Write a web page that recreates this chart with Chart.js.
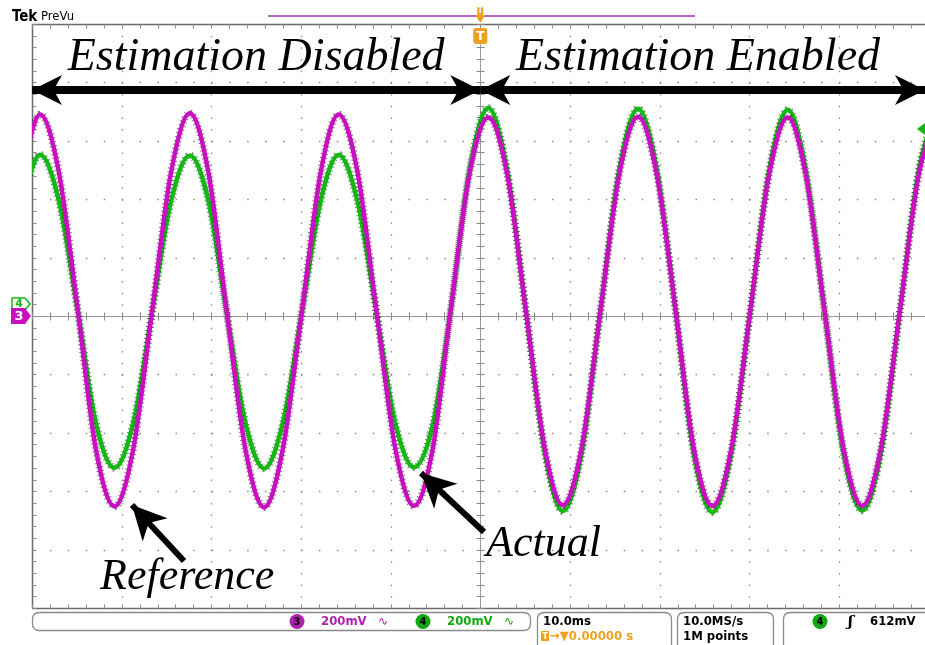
<!DOCTYPE html>
<html>
<head>
<meta charset="utf-8">
<script src="https://cdn.jsdelivr.net/npm/chart.js@4.4.0/dist/chart.umd.min.js"></script>
<style>
  html, body { margin: 0; padding: 0; background: #fff; overflow: hidden; }
  #wrap { position: relative; width: 925px; height: 645px; }
</style>
</head>
<body>
<div id="wrap"><canvas id="scope" width="925" height="645"></canvas></div>
<script>
// time axis in ms (trigger at 0), values in mV
const timeMs = [-51.2, -49.1, -47.0, -44.9, -42.9, -40.8, -38.7, -36.6, -34.5, -32.4,
    -30.3, -28.3, -26.2, -24.1, -22.0, -19.9, -17.8, -15.8, -13.7, -11.6,
    -9.5, -7.4, -5.3, -3.3, -1.2, 0.9, 3.0, 5.1, 7.2, 9.2,
    11.3, 13.4, 15.5, 17.6, 19.7, 21.8, 23.8, 25.9, 28.0, 30.1,
    32.2, 34.3, 36.3, 38.4, 40.5, 42.6, 44.7, 46.8, 48.9, 50.9];

// channel 3 - reference (magenta)
const ch3mV = [494, 690, 492, 22, -452, -652, -455, 18, 490, 694,
    488, 20, -456, -655, -452, 15, 492, 690, 494, 22,
    -450, -650, -455, 20, 488, 680, 485, 15, -455, -648,
    -452, 18, 485, 682, 482, 16, -452, -650, -455, 15,
    482, 680, 484, 18, -452, -650, -450, 18, 484, 684];

// channel 4 - actual (green)
const ch4mV = [392, 552, 394, 18, -362, -520, -365, 14, 392, 550,
    390, 15, -365, -522, -362, 12, 394, 552, 392, 16,
    -364, -518, -372, 18, 500, 712, 500, 15, -470, -668,
    -472, 16, 502, 710, 500, 14, -470, -672, -470, 12,
    498, 706, 500, 15, -468, -666, -468, 15, 500, 712];

const xTicks = [-50, -40, -30, -20, -10, 0, 10, 20, 30, 40];
const yTicks = [-1000, -800, -600, -400, -200, 0, 200, 400, 600, 800, 1000];
const xRange = [-50, 49.6];
const yRange = [-1000, 1000];

const trigLevelMv = 640;

const MAGENTA = '#c810c0';
const GREEN = '#14b814';
const GRID = '#8c8c8c';
const ORANGE = '#f0a020';
const SERIF = '"Liberation Serif", "Times New Roman", "DejaVu Serif", serif';

function pts(vals) {
    return timeMs.map((t, i) => ({ x: t, y: vals[i] }));
}

const scopeGrid = {
    id: 'scopeGrid',
    beforeDatasetsDraw(chart) {
        const { ctx, chartArea: a, scales: { x, y } } = chart;
        const minorX = (x.getPixelForValue(10) - x.getPixelForValue(0)) / 5;
        const minorY = (y.getPixelForValue(0) - y.getPixelForValue(200)) / 5;
        ctx.save();
        ctx.strokeStyle = GRID;
        ctx.lineWidth = 1.3;
        // dotted major lines
        ctx.setLineDash([1.5, minorY - 1.5]);
        xTicks.forEach(v => {
            if (v === 0 || v === xRange[0]) return;
            const px = Math.round(x.getPixelForValue(v)) + 0.5;
            ctx.beginPath(); ctx.moveTo(px, a.top); ctx.lineTo(px, a.bottom); ctx.stroke();
        });
        ctx.setLineDash([1.5, minorX - 1.5]);
        yTicks.forEach(v => {
            if (v === 0 || Math.abs(v) === 1000) return;
            const py = Math.round(y.getPixelForValue(v)) + 0.5;
            ctx.beginPath(); ctx.moveTo(a.left, py); ctx.lineTo(a.right, py); ctx.stroke();
        });
        ctx.setLineDash([]);
        ctx.lineWidth = 1;
        const cx = Math.round(x.getPixelForValue(0)) + 0.5;
        const cy = Math.round(y.getPixelForValue(0)) + 0.5;
        const top = Math.round(a.top) + 0.5, bot = Math.round(a.bottom) + 0.5, left = Math.round(a.left) + 0.5;
        ctx.strokeStyle = '#9a9a9a';
        ctx.beginPath();
        ctx.moveTo(cx, a.top); ctx.lineTo(cx, a.bottom);
        ctx.moveTo(a.left, cy); ctx.lineTo(a.right, cy);
        ctx.stroke();
        ctx.strokeStyle = '#6a6a6a';
        ctx.lineWidth = 1.5;
        ctx.beginPath();
        ctx.moveTo(left, a.bottom); ctx.lineTo(left, top); ctx.lineTo(a.right, top);
        ctx.moveTo(a.left, bot); ctx.lineTo(a.right, bot);
        ctx.stroke();
        // minor ticks
        ctx.lineWidth = 1;
        ctx.strokeStyle = '#8a8a8a';
        ctx.beginPath();
        for (let t = xRange[0]; t <= xRange[1]; t += 2) {
            const px = Math.round(x.getPixelForValue(t)) + 0.5;
            ctx.moveTo(px, cy - 4); ctx.lineTo(px, cy + 4);
            ctx.moveTo(px, top); ctx.lineTo(px, top + 4);
            ctx.moveTo(px, bot); ctx.lineTo(px, bot - 4);
        }
        for (let m = yRange[0]; m <= yRange[1]; m += 40) {
            const py = Math.round(y.getPixelForValue(m)) + 0.5;
            ctx.moveTo(cx - 4, py); ctx.lineTo(cx + 4, py);
            ctx.moveTo(left, py); ctx.lineTo(left + 4, py);
        }
        ctx.stroke();
        ctx.restore();
    }
};

function arrowHead(ctx, tipX, tipY, fromX, fromY, len, half) {
    const ang = Math.atan2(tipY - fromY, tipX - fromX);
    ctx.beginPath();
    ctx.moveTo(tipX, tipY);
    ctx.lineTo(tipX - len * Math.cos(ang) + half * Math.sin(ang), tipY - len * Math.sin(ang) - half * Math.cos(ang));
    ctx.lineTo(tipX - len * 0.72 * Math.cos(ang), tipY - len * 0.72 * Math.sin(ang));
    ctx.lineTo(tipX - len * Math.cos(ang) - half * Math.sin(ang), tipY - len * Math.sin(ang) + half * Math.cos(ang));
    ctx.closePath();
    ctx.fill();
}

function arrow(ctx, x1, y1, x2, y2, w, len, half, both) {
    ctx.lineWidth = w;
    ctx.beginPath(); ctx.moveTo(x1, y1); ctx.lineTo(x2, y2); ctx.stroke();
    arrowHead(ctx, x2, y2, x1, y1, len, half);
    if (both) arrowHead(ctx, x1, y1, x2, y2, len, half);
}

function rrect(ctx, x, y, w, h, r) {
    ctx.beginPath();
    ctx.moveTo(x + r, y); ctx.lineTo(x + w - r, y); ctx.quadraticCurveTo(x + w, y, x + w, y + r);
    ctx.lineTo(x + w, y + h - r); ctx.quadraticCurveTo(x + w, y + h, x + w - r, y + h);
    ctx.lineTo(x + r, y + h); ctx.quadraticCurveTo(x, y + h, x, y + h - r);
    ctx.lineTo(x, y + r); ctx.quadraticCurveTo(x, y, x + r, y);
    ctx.closePath();
}

function chanBadge(ctx, cx, cy, num, color) {
    ctx.save();
    ctx.fillStyle = color;
    ctx.beginPath(); ctx.arc(cx, cy, 7.5, 0, Math.PI * 2); ctx.fill();
    ctx.fillStyle = '#000';
    ctx.font = 'bold 11px "DejaVu Sans Condensed", "DejaVu Sans", sans-serif';
    ctx.textAlign = 'center'; ctx.textBaseline = 'middle';
    ctx.fillText(num, cx, cy + 0.5);
    ctx.restore();
}

const scopeDecor = {
    id: 'scopeDecor',
    afterDatasetsDraw(chart) {
        const { ctx, chartArea: a, scales: { x, y } } = chart;
        const X = v => x.getPixelForValue(v), Y = v => y.getPixelForValue(v);
        ctx.save();

        // header
        ctx.fillStyle = '#000';
        ctx.textAlign = 'left'; ctx.textBaseline = 'alphabetic';
        ctx.font = 'bold 15px "DejaVu Sans Condensed", "DejaVu Sans", sans-serif';
        ctx.fillText('Tek', 12, 21);
        ctx.font = '13px "DejaVu Sans Condensed", "DejaVu Sans", sans-serif';
        ctx.fillText('PreVu', 41, 20);
        ctx.strokeStyle = '#b068c0'; ctx.lineWidth = 2;
        ctx.beginPath(); ctx.moveTo(268, 16); ctx.lineTo(695, 16); ctx.stroke();

        // trigger position markers
        const tx = X(0);
        ctx.fillStyle = ORANGE;
        ctx.fillRect(tx - 3, 6, 6, 9);
        ctx.beginPath(); ctx.moveTo(tx - 5, 15); ctx.lineTo(tx + 5, 15); ctx.lineTo(tx, 23); ctx.closePath(); ctx.fill();
        rrect(ctx, tx - 7, 28, 14, 16, 3); ctx.fill();
        ctx.fillStyle = '#fff';
        ctx.font = 'bold 12px "DejaVu Sans", sans-serif';
        ctx.textAlign = 'center'; ctx.textBaseline = 'middle';
        ctx.fillText('T', tx, 36.5);
        ctx.font = 'bold 8px "DejaVu Sans", sans-serif';
        ctx.fillText('T', tx, 10.5);

        // channel markers on the left
        const c0 = Y(0);
        ctx.strokeStyle = GREEN; ctx.lineWidth = 1.5; ctx.fillStyle = '#fff';
        ctx.beginPath();
        ctx.moveTo(12, c0 - 18); ctx.lineTo(25, c0 - 18); ctx.lineTo(30, c0 - 12); ctx.lineTo(25, c0 - 6); ctx.lineTo(12, c0 - 6); ctx.closePath();
        ctx.fill(); ctx.stroke();
        ctx.fillStyle = GREEN; ctx.font = 'bold 11px "DejaVu Sans", sans-serif';
        ctx.fillText('4', 19, c0 - 11.5);
        ctx.fillStyle = MAGENTA;
        ctx.beginPath();
        ctx.moveTo(11, c0 - 8); ctx.lineTo(25, c0 - 8); ctx.lineTo(31, c0); ctx.lineTo(25, c0 + 8); ctx.lineTo(11, c0 + 8); ctx.closePath();
        ctx.fill();
        ctx.fillStyle = '#fff'; ctx.font = 'bold 13px "DejaVu Sans", sans-serif';
        ctx.fillText('3', 19, c0 + 0.5);

        // trigger level marker on the right
        const ty = Y(trigLevelMv);
        ctx.fillStyle = GREEN;
        ctx.beginPath(); ctx.moveTo(a.right - 8, ty); ctx.lineTo(a.right, ty - 6); ctx.lineTo(a.right, ty + 6); ctx.closePath(); ctx.fill();

        // annotations
        ctx.fillStyle = '#000'; ctx.strokeStyle = '#000';
        ctx.font = 'italic 46px ' + SERIF;
        ctx.textAlign = 'center'; ctx.textBaseline = 'alphabetic';
        ctx.fillText('Estimation Disabled', (X(-50) + X(0)) / 2, 70);
        ctx.fillText('Estimation Enabled', 698, 70);
        arrow(ctx, X(-50), 90, X(0), 90, 8, 30, 15, true);
        arrow(ctx, X(0), 90, a.right, 90, 8, 30, 15, true);

        ctx.font = 'italic 44px ' + SERIF;
        ctx.textAlign = 'left';
        ctx.fillText('Reference', 100, 589);
        ctx.fillText('Actual', 486, 556);
        arrow(ctx, 184, 561, 132, 505, 6, 34, 17, false);
        arrow(ctx, 484, 532, 421, 473, 6, 34, 17, false);

        // status bar
        ctx.strokeStyle = '#8a8a8a'; ctx.lineWidth = 1.3; ctx.fillStyle = '#fff';
        rrect(ctx, 32.5, 612.5, 498, 18, 7); ctx.stroke();
        rrect(ctx, 537.5, 612.5, 134, 40, 7); ctx.stroke();
        rrect(ctx, 677.5, 612.5, 96, 40, 7); ctx.stroke();
        rrect(ctx, 783.5, 612.5, 160, 40, 7); ctx.stroke();

        chanBadge(ctx, 297, 621.5, '3', '#b020b0');
        chanBadge(ctx, 423, 621.5, '4', '#10a810');
        chanBadge(ctx, 820, 621.5, '4', '#10a810');

        ctx.textAlign = 'left'; ctx.textBaseline = 'middle';
        ctx.font = 'bold 13px "DejaVu Sans Condensed", "DejaVu Sans", sans-serif';
        ctx.fillStyle = '#b020b0';
        ctx.fillText('200mV', 321, 622);
        ctx.font = '12px "DejaVu Sans", sans-serif';
        ctx.fillText('\u223F', 378, 622);
        ctx.fillStyle = '#10a810';
        ctx.font = 'bold 13px "DejaVu Sans Condensed", "DejaVu Sans", sans-serif';
        ctx.fillText('200mV', 447, 622);
        ctx.font = '12px "DejaVu Sans", sans-serif';
        ctx.fillText('\u223F', 504, 622);

        ctx.fillStyle = '#000';
        ctx.font = 'bold 13px "DejaVu Sans Condensed", "DejaVu Sans", sans-serif';
        ctx.fillText('10.0ms', 543, 622);
        ctx.fillText('10.0MS/s', 683, 622);
        ctx.fillText('1M points', 683, 637);
        ctx.fillText('612mV', 870, 622);
        ctx.fillStyle = ORANGE;
        ctx.fillRect(541, 631, 8, 10);
        ctx.fillText('\u2192\u25BC0.00000 s', 550, 637);
        ctx.fillStyle = '#fff';
        ctx.font = 'bold 8px "DejaVu Sans", sans-serif';
        ctx.fillText('T', 542.5, 636.5);

        ctx.fillStyle = '#000';
        ctx.font = 'italic bold 15px "DejaVu Serif", serif';
        ctx.fillText('\u0283', 848, 622);

        ctx.restore();
    }
};

const ctx = document.getElementById('scope').getContext('2d');

new Chart(ctx, {
    type: 'line',
    data: {
        datasets: [
            { label: 'Reference', data: pts(ch3mV), borderColor: MAGENTA, borderWidth: 4.5, order: 0 },
            { label: 'Reference edge', data: pts(ch3mV), borderColor: 'rgba(60,20,60,0.6)', borderWidth: 7.5, borderDash: [1, 3], order: 1 },
            { label: 'Actual', data: pts(ch4mV), borderColor: GREEN, borderWidth: 4.5, order: 2 },
            { label: 'Actual edge', data: pts(ch4mV), borderColor: 'rgba(20,60,20,0.6)', borderWidth: 7.5, borderDash: [1, 3], order: 3 }
        ]
    },
    options: {
        responsive: false,
        animation: false,
        events: [],
        layout: { padding: { left: 32, top: 24, right: 0, bottom: 37 } },
        elements: {
            point: { radius: 0 },
            line: { cubicInterpolationMode: 'monotone', fill: false }
        },
        scales: {
            x: { type: 'linear', display: false, min: xRange[0], max: xRange[1] },
            y: { type: 'linear', display: false, min: yRange[0], max: yRange[1] }
        },
        plugins: {
            legend: { display: false },
            tooltip: { enabled: false }
        }
    },
    plugins: [scopeGrid, scopeDecor]
});
</script>
</body>
</html>
